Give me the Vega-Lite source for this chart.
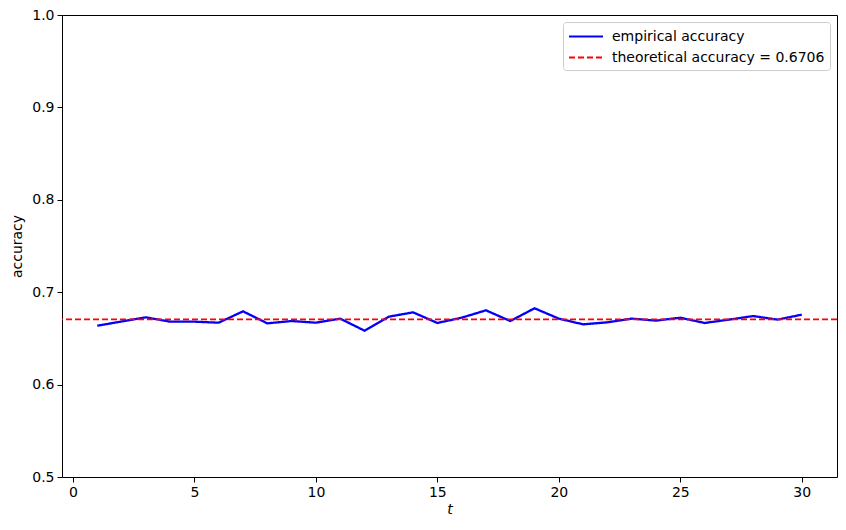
{
  "$schema": "https://vega.github.io/schema/vega-lite/v6.json",
  "width": 775,
  "height": 462,
  "autosize": {"type": "none"},
  "padding": {"left": 62, "top": 15, "right": 9, "bottom": 53},
  "background": "white",
  "datasets": {
    "empirical": [
      {"t": 1, "accuracy": 0.6637, "series": "empirical accuracy"},
      {"t": 2, "accuracy": 0.6683, "series": "empirical accuracy"},
      {"t": 3, "accuracy": 0.6728, "series": "empirical accuracy"},
      {"t": 4, "accuracy": 0.6681, "series": "empirical accuracy"},
      {"t": 5, "accuracy": 0.6681, "series": "empirical accuracy"},
      {"t": 6, "accuracy": 0.6670, "series": "empirical accuracy"},
      {"t": 7, "accuracy": 0.6793, "series": "empirical accuracy"},
      {"t": 8, "accuracy": 0.6663, "series": "empirical accuracy"},
      {"t": 9, "accuracy": 0.6688, "series": "empirical accuracy"},
      {"t": 10, "accuracy": 0.6670, "series": "empirical accuracy"},
      {"t": 11, "accuracy": 0.6714, "series": "empirical accuracy"},
      {"t": 12, "accuracy": 0.6584, "series": "empirical accuracy"},
      {"t": 13, "accuracy": 0.6735, "series": "empirical accuracy"},
      {"t": 14, "accuracy": 0.6782, "series": "empirical accuracy"},
      {"t": 15, "accuracy": 0.6667, "series": "empirical accuracy"},
      {"t": 16, "accuracy": 0.6724, "series": "empirical accuracy"},
      {"t": 17, "accuracy": 0.6804, "series": "empirical accuracy"},
      {"t": 18, "accuracy": 0.6688, "series": "empirical accuracy"},
      {"t": 19, "accuracy": 0.6826, "series": "empirical accuracy"},
      {"t": 20, "accuracy": 0.6714, "series": "empirical accuracy"},
      {"t": 21, "accuracy": 0.6652, "series": "empirical accuracy"},
      {"t": 22, "accuracy": 0.6674, "series": "empirical accuracy"},
      {"t": 23, "accuracy": 0.6714, "series": "empirical accuracy"},
      {"t": 24, "accuracy": 0.6692, "series": "empirical accuracy"},
      {"t": 25, "accuracy": 0.6724, "series": "empirical accuracy"},
      {"t": 26, "accuracy": 0.6667, "series": "empirical accuracy"},
      {"t": 27, "accuracy": 0.6703, "series": "empirical accuracy"},
      {"t": 28, "accuracy": 0.6742, "series": "empirical accuracy"},
      {"t": 29, "accuracy": 0.6703, "series": "empirical accuracy"},
      {"t": 30, "accuracy": 0.6757, "series": "empirical accuracy"}
    ],
    "theoretical": [
      {"accuracy": 0.6706, "series": "theoretical accuracy = 0.6706"}
    ]
  },
  "encoding": {
    "color": {
      "field": "series",
      "type": "nominal",
      "scale": {
        "domain": ["empirical accuracy", "theoretical accuracy = 0.6706"],
        "range": ["#0000ff", "#ff0000"]
      },
      "legend": {
        "title": null,
        "orient": "top-right",
        "offset": 7,
        "symbolType": "M-1,0H3",
        "symbolSize": 289,
        "symbolStrokeWidth": 2,
        "labelFontSize": 14,
        "labelFont": "DejaVu Sans",
        "labelColor": "black",
        "labelLimit": 0,
        "labelOffset": 25,
        "strokeColor": "#cccccc",
        "fillColor": "white",
        "cornerRadius": 3,
        "padding": 5,
        "rowPadding": 4
      }
    },
    "strokeDash": {
      "field": "series",
      "type": "nominal",
      "scale": {
        "domain": ["empirical accuracy", "theoretical accuracy = 0.6706"],
        "range": [[1, 0], [6, 3]]
      },
      "legend": {
        "title": null,
        "orient": "top-right",
        "offset": 7,
        "symbolType": "M-1,0H3",
        "symbolSize": 289,
        "symbolStrokeWidth": 2,
        "labelFontSize": 14,
        "labelFont": "DejaVu Sans",
        "labelColor": "black",
        "labelLimit": 0,
        "labelOffset": 25,
        "strokeColor": "#cccccc",
        "fillColor": "white",
        "cornerRadius": 3,
        "padding": 5,
        "rowPadding": 4
      }
    }
  },
  "layer": [
    {
      "data": {"name": "empirical"},
      "mark": {"type": "line", "strokeWidth": 2.3},
      "encoding": {
        "x": {
          "field": "t",
          "type": "quantitative",
          "scale": {"domain": [-0.45, 31.45], "nice": false, "zero": false},
          "axis": {"values": [0, 5, 10, 15, 20, 25, 30], "title": "t", "titleFontStyle": "italic"}
        },
        "y": {
          "field": "accuracy",
          "type": "quantitative",
          "scale": {"domain": [0.5, 1.0], "nice": false, "zero": false},
          "axis": {"values": [0.5, 0.6, 0.7, 0.8, 0.9, 1.0], "format": ".1f", "title": "accuracy"}
        }
      }
    },
    {
      "data": {"name": "theoretical"},
      "mark": {"type": "rule", "strokeWidth": 1.8},
      "encoding": {
        "y": {"field": "accuracy", "type": "quantitative"}
      }
    }
  ],
  "config": {
    "font": "DejaVu Sans",
    "view": {"stroke": "black", "strokeWidth": 1},
    "axis": {
      "grid": false,
      "domain": false,
      "tickColor": "black",
      "tickSize": 5,
      "labelFontSize": 14,
      "labelColor": "black",
      "labelFont": "DejaVu Sans",
      "titleFontSize": 14,
      "titleFont": "DejaVu Sans",
      "titleFontWeight": "normal",
      "titleColor": "black",
      "labelPadding": 3
    },
    "axisX": {"titlePadding": 3},
    "axisY": {"titlePadding": 7}
  }
}
